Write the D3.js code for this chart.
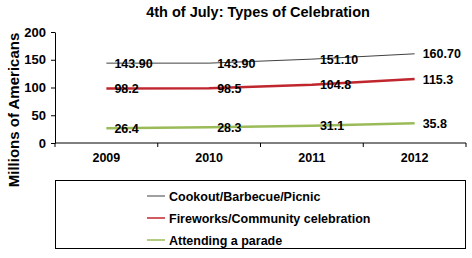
<!DOCTYPE html>
<html>
<head>
<meta charset="utf-8">
<script src="https://cdn.jsdelivr.net/npm/d3@7"></script>
<style>
  body { margin: 0; background: #fff; }
  text { font-family: "Liberation Sans", Arial, sans-serif; font-weight: bold; }
</style>
</head>
<body>
<div id="main"></div>
<script>
const years = ["2009", "2010", "2011", "2012"];
const seriesNames = ["Cookout/Barbecue/Picnic", "Fireworks/Community celebration", "Attending a parade"];
const cookout = [143.90, 143.90, 151.10, 160.70];
const fireworks = [98.2, 98.5, 104.8, 115.3];
const parade = [26.4, 28.3, 31.1, 35.8];
const cookoutLabels = ["143.90", "143.90", "151.10", "160.70"];
const fireworksLabels = ["98.2", "98.5", "104.8", "115.3"];
const paradeLabels = ["26.4", "28.3", "31.1", "35.8"];
const yTicks = [0, 50, 100, 150, 200];

const width = 472, height = 258;
const margin = { top: 32, right: 6, bottom: 115, left: 55 };

const series = [
  { name: seriesNames[0], values: cookout, labels: cookoutLabels, color: "#404040", w: 1 },
  { name: seriesNames[1], values: fireworks, labels: fireworksLabels, color: "#c0262d", w: 2.5 },
  { name: seriesNames[2], values: parade, labels: paradeLabels, color: "#9bbb59", w: 2.5 }
];

const x = d3.scaleBand().domain(years).range([margin.left, width - margin.right]);
const y = d3.scaleLinear().domain([0, 200]).range([height - margin.bottom, margin.top]);

const svg = d3.select("#main").append("svg")
  .attr("width", width).attr("height", height);

svg.append("text")
  .attr("x", 258).attr("y", 17)
  .attr("text-anchor", "middle")
  .attr("font-size", 14.5)
  .text("4th of July: Types of Celebration");

svg.append("text")
  .attr("transform", "translate(19,110) rotate(-90)")
  .attr("text-anchor", "middle")
  .attr("font-size", 15)
  .text("Millions of Americans");

// y axis
svg.append("g")
  .attr("transform", `translate(${margin.left},0)`)
  .call(d3.axisLeft(y).tickValues(yTicks).tickSize(4).tickSizeOuter(0))
  .call(g => g.select(".domain").attr("stroke", "#000"))
  .call(g => g.selectAll("text").attr("font-size", 13).attr("font-family", null).attr("x", -9));

// x axis with ticks at category borders
const xg = svg.append("g")
  .attr("transform", `translate(0,${y(0)})`);
xg.append("line")
  .attr("x1", margin.left).attr("x2", width - margin.right)
  .attr("stroke", "#000");
xg.selectAll("line.tick")
  .data(years.concat(["end"]))
  .join("line")
  .attr("class", "tick")
  .attr("x1", (d, i) => i < years.length ? x(d) : x(years[years.length - 1]) + x.bandwidth())
  .attr("x2", (d, i) => i < years.length ? x(d) : x(years[years.length - 1]) + x.bandwidth())
  .attr("y1", 0).attr("y2", 4)
  .attr("stroke", "#000");
xg.selectAll("text")
  .data(years)
  .join("text")
  .attr("x", d => x(d) + x.bandwidth() / 2)
  .attr("y", 19)
  .attr("text-anchor", "middle")
  .attr("font-size", 12.5)
  .text(d => d);

const cx = d => x(d) + x.bandwidth() / 2;
const line = d3.line()
  .x((d, i) => cx(years[i]))
  .y(d => y(d));

series.forEach(s => {
  svg.append("path")
    .datum(s.values)
    .attr("fill", "none")
    .attr("stroke", s.color)
    .attr("stroke-width", s.w)
    .attr("d", line);
});

series.forEach(s => {
  svg.append("g")
    .selectAll("text")
    .data(s.values)
    .join("text")
    .attr("x", (d, i) => cx(years[i]) + 8)
    .attr("y", d => y(d) + 4.5)
    .attr("font-size", 12.5)
    .text((d, i) => s.labels[i]);
});

// legend
const legend = svg.append("g");
legend.append("rect")
  .attr("x", 55.5).attr("y", 180.5)
  .attr("width", 410).attr("height", 68)
  .attr("fill", "none").attr("stroke", "#000");
const rows = legend.selectAll("g")
  .data(series)
  .join("g")
  .attr("transform", (d, i) => `translate(147,${196 + i * 22})`);
rows.append("line")
  .attr("x1", 0).attr("x2", 18)
  .attr("stroke", d => d.color)
  .attr("stroke-width", d => d.w > 1 ? 1.5 : 1);
rows.append("text")
  .attr("x", 22).attr("y", 4.5)
  .attr("font-size", 12.5)
  .text(d => d.name);
</script>
</body>
</html>
